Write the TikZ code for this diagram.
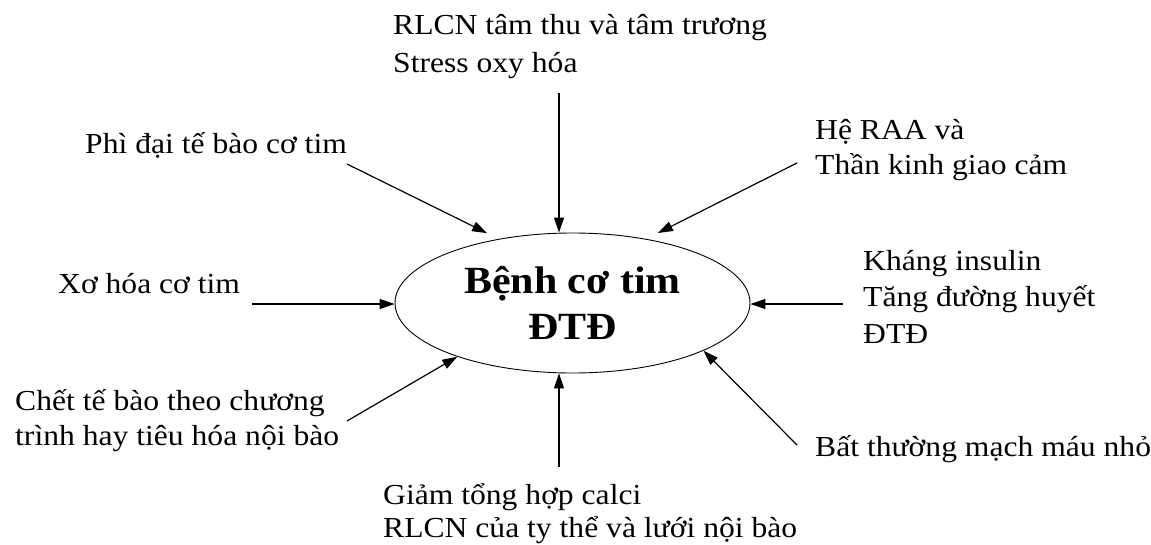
\documentclass[tikz,border=0pt]{standalone}
\usepackage{fontspec}
\setmainfont{Liberation Serif}[FakeStretch=1.09]
\usetikzlibrary{arrows.meta,shapes.geometric}

\begin{document}
\begin{tikzpicture}[
      x=1pt, y=-1pt,
      factor/.style={anchor=base west, align=left, inner sep=0pt,
        font=\fontsize{29}{35}\selectfont},
      cause/.style={-{Triangle[length=15pt,width=10pt]}, line width=1.2pt},
    ]
    \useasboundingbox (0,0) rectangle (1151,544);
    % centre
    \node[ellipse, draw, line width=0.9pt, minimum width=355pt, minimum height=140pt,
      inner sep=0pt, align=center, font=\bfseries\fontsize{38.5}{46}\selectfont]
      (disease) at (572.5,303) {Bệnh cơ tim\\ĐTĐ};
    % factors (placed by the baseline of their last line)
    \node[factor, font=\fontsize{29}{38}\selectfont] (systolic) at (393,72) {RLCN tâm thu và tâm trương\\Stress oxy hóa};
    \node[factor] (hypertrophy) at (85,153) {Phì đại tế bào cơ tim};
    \node[factor] (raa) at (815,174) {Hệ RAA và\\Thần kinh giao cảm};
    \node[factor] (fibrosis) at (58,293) {Xơ hóa cơ tim};
    \node[factor, font=\fontsize{29}{36.5}\selectfont] (insulin) at (863,343) {Kháng insulin\\Tăng đường huyết\\ĐTĐ};
    \node[factor] (apoptosis) at (15,445) {Chết tế bào theo chương\\trình hay tiêu hóa nội bào};
    \node[factor] (microvessel) at (815,456) {Bất thường mạch máu nhỏ};
    \node[factor, font=\fontsize{29}{33}\selectfont] (calcium) at (383,537) {Giảm tổng hợp calci\\RLCN của ty thể và lưới nội bào};
    % arrow starts
    \coordinate (s-top) at (559,93);
    \coordinate (s-tl) at (347,164);
    \coordinate (s-tr) at (797,163);
    \coordinate (s-l) at (252,304);
    \coordinate (s-r) at (843,304);
    \coordinate (s-bl) at (347,421);
    \coordinate (s-b) at (559,467);
    \coordinate (s-br) at (797,445);
    % arrows
    \draw[cause] (s-top) -- (s-top |- disease.north);
    \draw[cause, shorten >=13pt] (s-tl) -- (disease.139);
    \draw[cause, shorten >=13pt] (s-tr) -- (disease.41.5);
    \draw[cause] (s-l) -- (s-l -| disease.west);
    \draw[cause] (s-r) -- (s-r -| disease.east);
    \draw[cause] (s-bl) -- (disease.205);
    \draw[cause] (s-b) -- (s-b |- disease.south);
    \draw[cause] (s-br) -- (disease.340);
\end{tikzpicture}
\end{document}
